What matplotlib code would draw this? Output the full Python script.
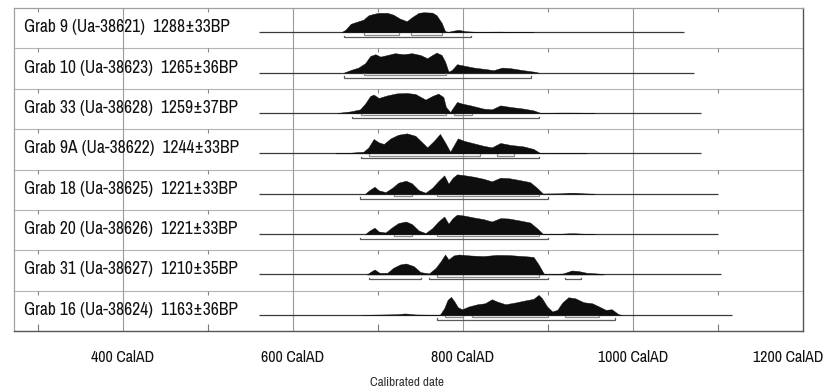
#!/usr/bin/env python3
import matplotlib
matplotlib.use("Agg")
import matplotlib.pyplot as plt
import matplotlib.transforms as mtransforms
from matplotlib import font_manager

# ---------- data ----------
labels = [
    "Grab 9 (Ua-38621)  1288\u00b133BP",
    "Grab 10 (Ua-38623)  1265\u00b136BP",
    "Grab 33 (Ua-38628)  1259\u00b137BP",
    "Grab 9A (Ua-38622)  1244\u00b133BP",
    "Grab 18 (Ua-38625)  1221\u00b133BP",
    "Grab 20 (Ua-38626)  1221\u00b133BP",
    "Grab 31 (Ua-38627)  1210\u00b135BP",
    "Grab 16 (Ua-38624)  1163\u00b136BP",
]

# probability curves (year, relative height)
g9_yr = [657, 662, 668, 675, 683, 689, 695, 701, 711, 718, 726, 734, 740, 748, 754, 764, 769, 775, 779, 783, 789, 795, 803, 816, 844, 867, 883]
g9_p  = [0, .13, .42, .52, .63, .85, .92, .97, .97, .88, .68, .55, .75, .97, 1.0, .98, .85, .47, .05, .02, .08, .12, .05, .02, .03, .01, 0]

g10_yr = [660, 668, 677, 685, 691, 697, 703, 711, 720, 730, 740, 750, 758, 764, 769, 775, 779, 783, 787, 793, 801, 813, 828, 836, 846, 856, 871, 883, 889]
g10_p  = [0, .13, .25, .47, .83, .92, .80, .88, .97, .92, .97, .88, .72, .88, 1.0, .88, .55, .05, .13, .42, .35, .25, .17, .12, .25, .22, .12, .05, 0]

g33_yr = [652, 668, 679, 685, 691, 695, 701, 711, 722, 734, 744, 756, 764, 771, 777, 780, 785, 789, 793, 799, 809, 824, 834, 844, 856, 871, 883, 891, 920, 940, 955]
g33_p  = [0, .08, .18, .47, .85, .92, .75, .88, .98, 1.0, .95, .67, .85, .97, .80, .30, .05, .30, .55, .47, .38, .22, .18, .38, .30, .22, .13, .01, .02, .015, 0]

g9a_yr = [650, 664, 683, 689, 695, 701, 707, 715, 724, 734, 744, 752, 758, 766, 773, 779, 785, 789, 794, 801, 813, 824, 834, 844, 856, 871, 883, 891, 915, 930, 945]
g9a_p  = [0, .02, .08, .30, .72, .55, .47, .75, .93, 1.0, .88, .55, .30, .63, .97, .55, .08, .38, .75, .63, .50, .38, .30, .52, .42, .35, .22, .01, .02, .02, 0]

g18_yr = [685, 690, 696, 701, 709, 717, 724, 733, 740, 748, 756, 764, 771, 778, 783, 788, 793, 801, 813, 824, 834, 844, 854, 867, 879, 887, 894, 915, 925, 932, 942, 955]
g18_p  = [0, .18, .35, .17, .08, .30, .55, .65, .52, .18, .05, .30, .63, .92, .50, .80, .97, .93, .85, .75, .62, .80, .78, .68, .58, .30, .01, .02, .05, .05, .02, 0]

g20_yr = [685, 690, 696, 701, 709, 717, 724, 733, 740, 748, 756, 764, 771, 778, 783, 788, 793, 801, 813, 824, 834, 844, 854, 867, 879, 887, 894, 915, 925, 932, 942, 955]
g20_p  = [0, .17, .32, .13, .08, .35, .55, .63, .50, .18, .05, .30, .63, .88, .52, .80, .97, .93, .83, .75, .63, .80, .78, .68, .58, .30, .01, .02, .04, .04, .02, 0]

g31_yr = [687, 691, 696, 702, 711, 718, 726, 733, 742, 750, 760, 768, 774, 779, 783, 789, 795, 809, 824, 840, 854, 871, 883, 889, 895, 900, 918, 928, 936, 946, 958, 966]
g31_p  = [0, .12, .25, .08, .08, .33, .50, .55, .42, .12, .05, .33, .67, 1.0, .75, .95, 1.0, .95, .92, .98, .97, .92, .88, .50, .05, .01, .05, .20, .17, .08, .05, 0]

g16_yr = [680, 722, 732, 744, 758, 773, 778, 782, 786, 790, 794, 799, 807, 817, 826, 834, 840, 850, 862, 873, 883, 889, 893, 899, 905, 911, 917, 924, 932, 942, 952, 960, 968, 975, 983, 987]
g16_p  = [0, .03, .07, .02, .01, .01, .33, .75, .90, .67, .38, .28, .42, .53, .58, .78, .67, .53, .62, .72, .80, 1.0, .83, .42, .17, .25, .62, .88, .83, .63, .58, .42, .25, .28, .03, 0]

curves_yr = [g9_yr, g10_yr, g33_yr, g9a_yr, g18_yr, g20_yr, g31_yr, g16_yr]
curves_p = [g9_p, g10_p, g33_p, g9a_p, g18_p, g20_p, g31_p, g16_p]

# 68.2% and 95.4% ranges
r68 = [
    [(684, 725), (739, 775)],
    [(684, 780)],
    [(680, 780), (790, 811)],
    [(690, 820), (840, 860)],
    [(719, 740), (769, 890)],
    [(719, 740), (769, 890)],
    [(769, 890)],
    [(779, 800), (811, 900), (920, 960)],
]
r95 = [
    [(660, 810)],
    [(660, 880)],
    [(670, 890)],
    [(680, 890)],
    [(679, 900)],
    [(679, 900)],
    [(690, 751), (760, 900), (920, 939)],
    [(769, 979)],
]

# calibration range of each baseline
line_start = [560] * 8
line_end = [1060, 1072, 1080, 1080, 1100, 1100, 1104, 1116]

xticks = [400, 600, 800, 1000, 1200]
xtick_labels = ["400 CalAD", "600 CalAD", "800 CalAD", "1000 CalAD", "1200 CalAD"]
minor_ticks = [300, 500, 700, 900, 1100]

# ---------- font: a narrow face if there is one ----------
narrow = None
for f in font_manager.fontManager.ttflist:
    nm = f.name.lower()
    if "narrow" in nm or "condensed" in nm:
        narrow = f.name
        break
if narrow:
    FONT = [narrow, "DejaVu Sans"]
    lab_fs, tick_fs, axl_fs = 12.6, 11.5, 9.5
else:
    FONT = ["Liberation Sans", "DejaVu Sans"]
    lab_fs, tick_fs, axl_fs = 10.6, 9.6, 8.2
plt.rcParams["font.family"] = FONT

# ---------- plot ----------
fig = plt.figure(figsize=(8.37, 3.90), dpi=100)
ax = fig.add_axes([14/837, 1 - 331/390, 789/837, 323/390])
ax.set_xlim(272, 1200)
nrows = len(labels)
ax.set_ylim(nrows, 0)

BASE = 0.60   # baseline position inside a row
HGT = 0.495   # height of a normalised curve
sep_col = "#b4b4b4"

for i in range(nrows):
    b = i + BASE
    # row separator + small ticks hanging from it
    if i > 0:
        ax.axhline(i, color=sep_col, lw=0.8, zorder=1)
    ax.vlines(minor_ticks, i, i + 0.1, color="#888888", lw=0.8, zorder=1)
    # baseline
    ax.hlines(b, line_start[i], line_end[i], color="#3a3a3a", lw=0.9, zorder=2)
    # curve
    ys = [b - p * HGT for p in curves_p[i]]
    ax.fill_between(curves_yr[i], b, ys, color="#0e0e0e", lw=0.3, zorder=3)
    # ranges
    for lvl, rng, col in [(0.057, r68[i], "#8a8a8a"), (0.124, r95[i], "#5a5a5a")]:
        yy = b + lvl
        for a, c in rng:
            ax.plot([a, a, c, c], [yy - 0.035, yy, yy, yy - 0.035], color=col, lw=0.9,
                    solid_joinstyle="miter", zorder=2)
    ax.text(10/789, b, labels[i], transform=ax.get_yaxis_transform(), ha="left", va="baseline",
            fontsize=lab_fs, fontweight="medium", color="#111111")

# vertical grid lines
ax.vlines(xticks[:-1], 0, nrows, color="#9a9a9a", lw=0.8, zorder=1)

# frame
for side in ["top", "left"]:
    ax.spines[side].set_color("#a0a0a0")
    ax.spines[side].set_linewidth(0.9)
for side in ["right", "bottom"]:
    ax.spines[side].set_color("#555555")
    ax.spines[side].set_linewidth(1.0)

ax.set_yticks([])
ax.set_xticks(minor_ticks)
ax.tick_params(axis="x", direction="in", length=5, width=0.8, color="#777777", labelbottom=False)

# tick labels (the last one is pulled inside the figure, as in the original)
for k, (xv, lab) in enumerate(zip(xticks, xtick_labels)):
    tr = ax.get_xaxis_transform()
    if k == len(xticks) - 1:
        tr = tr + mtransforms.ScaledTranslation(-0.15, 0, fig.dpi_scale_trans)
    ax.text(xv, -27/323, lab, transform=tr, ha="center", va="center", fontsize=tick_fs,
            fontweight="medium", color="#111111", clip_on=False)

fig.text(407/837, 1 - 382/390, "Calibrated date", ha="center", va="center", fontsize=axl_fs,
         color="#333333")

fig.savefig("out.png", dpi=100)
